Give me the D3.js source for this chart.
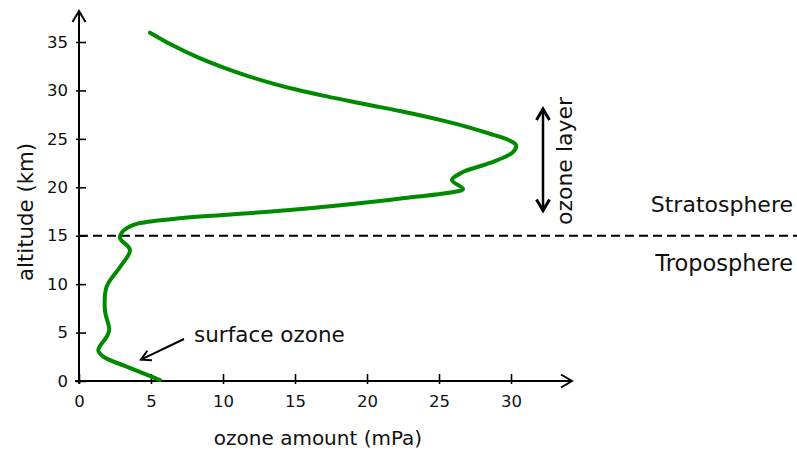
<!DOCTYPE html>
<html>
<head>
<meta charset="utf-8">
<script src="https://cdn.jsdelivr.net/npm/d3@7"></script>
<style>
  html, body { margin: 0; padding: 0; background: #fff; }
  svg { display: block; font-family: "DejaVu Sans", sans-serif; }
</style>
</head>
<body>
<svg id="chart" width="797" height="450"></svg>
<script>
// Ozone partial pressure (mPa) against altitude (km), listed from top to bottom
const ozone = [4.93, 6.53, 8.26, 10.0, 11.74, 13.47, 15.21, 16.94, 18.68, 20.42, 22.29, 25.28, 26.94, 28.54, 29.79, 30.35,
               30.14, 28.54, 26.67, 25.9, 26.67, 25.56, 23.19, 20.9, 14.65, 10.0, 6.53, 3.75, 3.0, 2.85,
               3.54, 2.85, 1.92, 1.8, 2.1, 1.92, 1.34, 1.69, 3.31, 5.63];
const altitude = [35.96, 34.63, 33.41, 32.38, 31.48, 30.71, 30.04, 29.46, 28.93, 28.42, 27.87, 26.88, 26.24, 25.53, 24.91, 24.36,
                  23.64, 22.51, 21.58, 20.75, 19.82, 19.41, 19.0, 18.58, 17.65, 17.14, 16.72, 16.1, 15.38, 14.76,
                  13.52, 11.77, 9.74, 7.33, 5.27, 4.57, 3.2, 2.51, 1.48, 0.1];

const xTicks = [0, 5, 10, 15, 20, 25, 30];
const yTicks = [0, 5, 10, 15, 20, 25, 30, 35];

const tropopause = 15;           // km, boundary drawn as a dashed line
const ozoneLayer = [17.4, 28.3]; // km, extent of the double arrow
const surfacePoint = [4.3, 2.2]; // mPa, km — where the "surface ozone" arrow points

const svg = d3.select("#chart");
const green = "#008a00";
const ink = "#111";

const x = d3.scaleLinear().domain([0, 30]).range([79, 511]);
const y = d3.scaleLinear().domain([0, 35]).range([381, 42]);

// Axes: ticks straddle the axis line (7px inside, 3px outside)
const gx = svg.append("g")
  .attr("transform", `translate(0,${y(0)})`)
  .call(d3.axisBottom(x).tickValues(xTicks).tickSize(-7).tickFormat(d3.format("d")));
gx.select(".domain").remove();
gx.selectAll(".tick line").attr("y1", 3).attr("stroke", "#000").attr("stroke-width", 1.6);
gx.selectAll(".tick text").attr("y", 14).attr("dy", "0.71em")
  .attr("font-size", 16.5).attr("font-family", "DejaVu Sans, sans-serif").attr("fill", ink);

const gy = svg.append("g")
  .attr("transform", `translate(${x(0)},0)`)
  .call(d3.axisLeft(y).tickValues(yTicks).tickSize(-7).tickFormat(d3.format("d")));
gy.select(".domain").remove();
gy.selectAll(".tick line").attr("x1", -3).attr("stroke", "#000").attr("stroke-width", 1.6);
gy.selectAll(".tick text").attr("x", -11)
  .attr("font-size", 16.5).attr("font-family", "DejaVu Sans, sans-serif").attr("fill", ink);

// Axis lines with open arrowheads
const xEnd = 573, yEnd = 10;
svg.append("line")
  .attr("x1", x(0) - 4).attr("x2", xEnd - 1).attr("y1", y(0)).attr("y2", y(0))
  .attr("stroke", "#000").attr("stroke-width", 2);
svg.append("path")
  .attr("d", `M${xEnd - 12},${y(0) - 6.5} L${xEnd - 1},${y(0)} L${xEnd - 12},${y(0) + 6.5}`)
  .attr("fill", "none").attr("stroke", "#000").attr("stroke-width", 2);

svg.append("line")
  .attr("x1", x(0)).attr("x2", x(0)).attr("y1", y(0) + 3).attr("y2", yEnd + 1)
  .attr("stroke", "#000").attr("stroke-width", 2);
svg.append("path")
  .attr("d", `M${x(0) - 6.5},${yEnd + 12} L${x(0)},${yEnd + 1} L${x(0) + 6.5},${yEnd + 12}`)
  .attr("fill", "none").attr("stroke", "#000").attr("stroke-width", 2);

// Tropopause
svg.append("line")
  .attr("x1", x(0)).attr("x2", 797)
  .attr("y1", y(tropopause)).attr("y2", y(tropopause))
  .attr("stroke", "#000").attr("stroke-width", 2)
  .attr("stroke-dasharray", "9,5");

// Ozone profile
const profile = ozone.map((v, i) => [v, altitude[i]]);
const line = d3.line()
  .x(d => x(d[0])).y(d => y(d[1]))
  .curve(d3.curveCatmullRom.alpha(0.5));
svg.append("path")
  .datum(profile)
  .attr("d", line)
  .attr("fill", "none")
  .attr("stroke", green)
  .attr("stroke-width", 4)
  .attr("stroke-linecap", "round")
  .attr("stroke-linejoin", "round");

// Ozone layer double arrow
const ax = 543;
const yTop = y(ozoneLayer[1]), yBot = y(ozoneLayer[0]);
svg.append("line")
  .attr("x1", ax).attr("x2", ax).attr("y1", yTop + 4).attr("y2", yBot - 4)
  .attr("stroke", "#000").attr("stroke-width", 2.5);
svg.append("path")
  .attr("d", `M${ax - 6.5},${yTop + 13} L${ax},${yTop + 2} L${ax + 6.5},${yTop + 13}` +
             `M${ax - 6.5},${yBot - 13} L${ax},${yBot - 2} L${ax + 6.5},${yBot - 13}`)
  .attr("fill", "none").attr("stroke", "#000").attr("stroke-width", 3);

svg.append("text")
  .attr("transform", `translate(572,161) rotate(-90)`)
  .attr("text-anchor", "middle")
  .attr("font-size", 22).attr("fill", ink)
  .text("ozone layer");

// Layer names
svg.append("text")
  .attr("x", 793).attr("y", 212)
  .attr("text-anchor", "end").attr("font-size", 22).attr("fill", ink)
  .text("Stratosphere");
svg.append("text")
  .attr("x", 793).attr("y", 271)
  .attr("text-anchor", "end").attr("font-size", 22.5).attr("fill", ink)
  .text("Troposphere");

// Surface ozone annotation
const sx = x(surfacePoint[0]), sy = y(surfacePoint[1]);
const sx0 = 184, sy0 = 339;
const ang = Math.atan2(sy - sy0, sx - sx0);
const hl = 11, hw = 0.5;
svg.append("line")
  .attr("x1", sx0).attr("y1", sy0).attr("x2", sx).attr("y2", sy)
  .attr("stroke", "#000").attr("stroke-width", 2);
svg.append("path")
  .attr("d", `M${sx - hl * Math.cos(ang - hw)},${sy - hl * Math.sin(ang - hw)} L${sx},${sy} ` +
             `L${sx - hl * Math.cos(ang + hw)},${sy - hl * Math.sin(ang + hw)}`)
  .attr("fill", "none").attr("stroke", "#000").attr("stroke-width", 2);
svg.append("text")
  .attr("x", 194).attr("y", 342)
  .attr("font-size", 21.5).attr("fill", ink)
  .text("surface ozone");

// Axis titles
svg.append("text")
  .attr("x", 318).attr("y", 445)
  .attr("text-anchor", "middle").attr("font-size", 20).attr("fill", ink)
  .text("ozone amount (mPa)");
svg.append("text")
  .attr("transform", `translate(33,212) rotate(-90)`)
  .attr("text-anchor", "middle").attr("font-size", 21.3).attr("fill", ink)
  .text("altitude (km)");
</script>
</body>
</html>
